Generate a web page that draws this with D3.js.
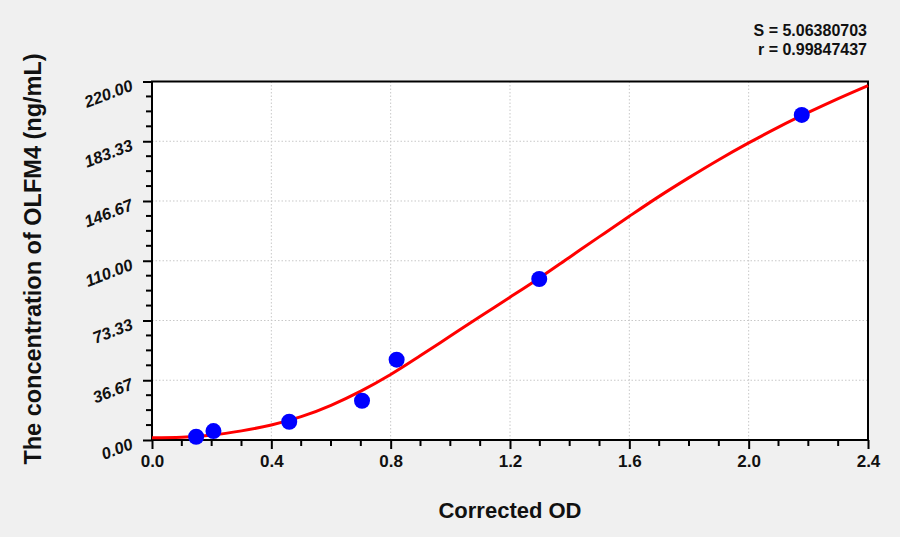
<!DOCTYPE html>
<html>
<head>
<meta charset="utf-8">
<script src="https://cdn.jsdelivr.net/npm/d3@7"></script>
<style>
  html, body { margin: 0; padding: 0; background: #f0f0f0; }
  svg { display: block; font-family: Arial, "Liberation Sans", sans-serif; }
</style>
</head>
<body>
<svg id="chart" width="900" height="537"></svg>
<script>
// ---- data ----
const pointOD   = [0.148, 0.206, 0.460, 0.704, 0.820, 1.298, 2.178];
const pointConc = [2.0, 5.5, 11.2, 24.1, 49.3, 98.8, 199.5];

const curveOD   = [0, 0.1, 0.2, 0.3, 0.4, 0.5, 0.6, 0.7, 0.8, 0.9, 1.0, 1.1, 1.2,
                   1.3, 1.4, 1.5, 1.6, 1.7, 1.8, 1.9, 2.0, 2.1, 2.2, 2.3, 2.4];
const curveConc = [1.4, 1.7, 3.0, 5.6, 9.2, 14.3, 21.3, 30.0, 40.2, 51.8, 63.8, 75.8, 87.6,
                   99.6, 112.2, 124.8, 137.3, 149.5, 161.0, 172.0, 182.3, 192.0, 201.0, 209.5, 217.5];

const xTickValues = [0.0, 0.4, 0.8, 1.2, 1.6, 2.0, 2.4];
const yTickValues = [0, 36.67, 73.33, 110, 146.67, 183.33, 220];
const xTickLabels = ["0.0", "0.4", "0.8", "1.2", "1.6", "2.0", "2.4"];
const yTickLabels = ["0.00", "36.67", "73.33", "110.00", "146.67", "183.33", "220.00"];

const statLines = ["S = 5.06380703", "r = 0.99847437"];
const xTitle = "Corrected OD";
const yTitle = "The concentration of OLFM4 (ng/mL)";

// ---- layout ----
const L = 152, R = 868, T = 81.5, B = 440;
const svg = d3.select("#chart");

const x = d3.scaleLinear().domain([0, 2.4]).range([L, R]);
const y = d3.scaleLinear().domain([0, 220]).range([B, T]);

// plot background
svg.append("rect").attr("x", L).attr("y", T).attr("width", R - L).attr("height", B - T)
  .attr("fill", "#ffffff");

// grid lines
const grid = svg.append("g").attr("stroke", "#c8c8c8").attr("stroke-width", 1)
  .attr("stroke-dasharray", "1.5,2");
grid.selectAll("line.vx").data(xTickValues.slice(1, -1)).join("line")
  .attr("x1", d => x(d)).attr("x2", d => x(d)).attr("y1", T).attr("y2", B);
grid.selectAll("line.hy").data(yTickValues.slice(1, -1)).join("line")
  .attr("x1", L).attr("x2", R).attr("y1", d => y(d)).attr("y2", d => y(d));

// minor ticks
const xMinor = d3.range(0, 25).map(i => i / 10).filter((v, i) => i % 4 !== 0);
const yMinor = d3.range(0, 25).map(i => i * 220 / 24).filter((v, i) => i % 4 !== 0);

// x axis
const xAxis = svg.append("g").attr("transform", `translate(0,${B})`)
  .call(d3.axisBottom(x).tickValues(xTickValues).tickSize(9).tickPadding(6)
    .tickFormat((d, i) => xTickLabels[i]));
xAxis.select(".domain").remove();
xAxis.selectAll(".tick line").attr("stroke", "#000").attr("stroke-width", 2);
xAxis.selectAll(".tick text").attr("font-size", 17).attr("font-weight", "bold")
  .attr("fill", "#111");
svg.append("g").selectAll("line").data(xMinor).join("line")
  .attr("x1", d => x(d)).attr("x2", d => x(d)).attr("y1", B).attr("y2", B + 6)
  .attr("stroke", "#000").attr("stroke-width", 2);

// y axis
const yAxis = svg.append("g").attr("transform", `translate(${L},0)`)
  .call(d3.axisLeft(y).tickValues(yTickValues).tickSize(9)
    .tickFormat((d, i) => yTickLabels[i]));
yAxis.select(".domain").remove();
yAxis.selectAll(".tick line").attr("stroke", "#000").attr("stroke-width", 2);
yAxis.selectAll(".tick text")
  .attr("x", -18).attr("dy", null).attr("y", 8)
  .attr("transform", "rotate(-21,-18,8)")
  .attr("text-anchor", "end")
  .attr("font-size", 16.5).attr("font-weight", "bold").attr("font-style", "italic")
  .attr("fill", "#111");
svg.append("g").selectAll("line").data(yMinor).join("line")
  .attr("x1", L - 6).attr("x2", L).attr("y1", d => y(d)).attr("y2", d => y(d))
  .attr("stroke", "#000").attr("stroke-width", 2);

// frame
svg.append("rect").attr("x", L).attr("y", T).attr("width", R - L).attr("height", B - T)
  .attr("fill", "none").attr("stroke", "#000").attr("stroke-width", 2);

// fitted curve
const curveData = curveOD.map((d, i) => [d, curveConc[i]]);
svg.append("path").datum(curveData)
  .attr("d", d3.line().x(d => x(d[0])).y(d => y(d[1])).curve(d3.curveCatmullRom.alpha(0.5)))
  .attr("fill", "none").attr("stroke", "#ff0000").attr("stroke-width", 3);

// points
svg.append("g").selectAll("circle").data(pointOD.map((d, i) => [d, pointConc[i]])).join("circle")
  .attr("cx", d => x(d[0])).attr("cy", d => y(d[1])).attr("r", 8)
  .attr("fill", "#0000ff");

// stats text
svg.append("g").selectAll("text").data(statLines).join("text")
  .attr("x", 867).attr("y", (d, i) => 36 + i * 19)
  .attr("text-anchor", "end").attr("font-size", 16).attr("font-weight", "bold")
  .attr("fill", "#111").text(d => d);

// axis titles
svg.append("text").attr("x", 510).attr("y", 518).attr("text-anchor", "middle")
  .attr("font-size", 22).attr("font-weight", "bold").attr("fill", "#111").text(xTitle);
svg.append("text").attr("transform", "translate(41,259) rotate(-90)")
  .attr("text-anchor", "middle").attr("font-size", 23.5).attr("font-weight", "bold")
  .attr("fill", "#111").text(yTitle);
</script>
</body>
</html>
